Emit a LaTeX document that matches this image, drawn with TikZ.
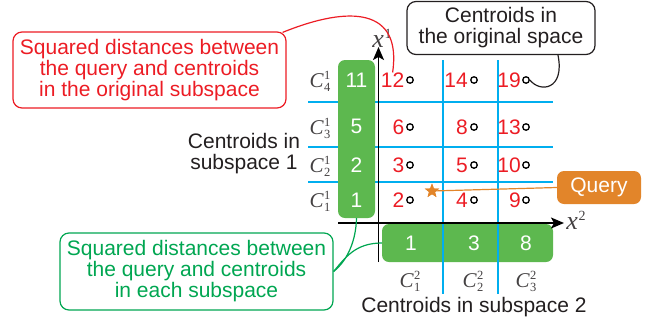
\documentclass[tikz,border=0pt]{standalone}
\usepackage{fontspec}
\setsansfont{Liberation Sans}
\newfontfamily\tms{Liberation Serif}
\usetikzlibrary{shapes.geometric,arrows.meta}
\definecolor{cred}{HTML}{EC1C24}
\definecolor{cgreen}{HTML}{00A651}
\definecolor{gfill}{HTML}{5DB84F}
\definecolor{cblue}{HTML}{00AEEF}
\definecolor{corange}{HTML}{E2852A}
\definecolor{cdark}{HTML}{231F20}
\newcommand\centlab[2]{{\tms\itshape C}\kern0.5pt\rlap{\raisebox{7.5pt}{\tms\fontsize{12.5}{12.5}\selectfont #2}}\raisebox{-4.5pt}{\tms\fontsize{12.5}{12.5}\selectfont #1}}
\newcommand\axlab[1]{{\tms\itshape x}\kern0.5pt\raisebox{9pt}{\tms\fontsize{14}{14}\selectfont #1}}
\begin{document}
\begin{tikzpicture}[x=1pt,y=-1pt,
  font=\sffamily\fontsize{21}{21}\selectfont,
  callout/.style={draw, rounded corners=9pt, line width=1.2pt, align=center, inner sep=2pt},
  gbox/.style={fill=gfill, rounded corners=7pt, inner sep=0pt},
  wnum/.style={text=white, inner sep=0pt},
  rnum/.style={text=cred, anchor=east, inner sep=0pt},
  pt/.style={circle, draw=black, fill=white, line width=1.3pt, minimum size=6.5pt, inner sep=0pt},
  clab/.style={text=cdark!85, font=\fontsize{21}{21}\selectfont, inner sep=0pt, anchor=base},
  bline/.style={cblue, line width=1.6pt},
  axis/.style={line width=1.6pt, -{Stealth[length=13pt,width=11pt,inset=3pt]}},
  conn/.style={line width=1.2pt}
]
\useasboundingbox (0,0) rectangle (649,325);

% blue grid
\draw[bline] (308,102) -- (553,102);
\draw[bline] (308,147) -- (553,147);
\draw[bline] (308,182) -- (553,182);

% green row box (under vertical lines)
\node[gbox, minimum width=171pt, minimum height=38pt] (grow) at (467.5,243) {};
\draw[bline] (443,60) -- (443,294);
\draw[bline] (498,60) -- (498,294);

% green column box (over horizontal lines)
\node[gbox, minimum width=37pt, minimum height=158pt] (gcol) at (356.5,139) {};

% axes
\coordinate (ybot) at (378.5,262);
\coordinate (ytop) at (378.5,47);
\coordinate (xl) at (338,223);
\coordinate (xr) at (564,223);
\draw[axis] (ybot) -- (ytop);
\draw[axis] (xl) -- (xr);
\node[clab, font=\fontsize{26}{26}\selectfont] (xone) at (382,47) {\axlab{1}};
\node[clab, font=\fontsize{26}{26}\selectfont] (xtwo) at (576,229) {\axlab{2}};

% numbers in green boxes
\node[wnum] (g11) at (356.5,80) {11};
\node[wnum] (g5) at (356.5,126) {5};
\node[wnum] (g2) at (356.5,165) {2};
\node[wnum] (g1) at (356.5,200) {1};
\node[wnum] (h1) at (411,243) {1};
\node[wnum] (h3) at (474,243) {3};
\node[wnum] (h8) at (526,243) {8};

% C labels
\node[clab] (c41) at (320,87) {\centlab{4}{1}};
\node[clab] (c31) at (320,134) {\centlab{3}{1}};
\node[clab] (c21) at (320,172) {\centlab{2}{1}};
\node[clab] (c11) at (320,207) {\centlab{1}{1}};
\node[clab] (c12) at (410,287) {\centlab{1}{2}};
\node[clab] (c22) at (473,287) {\centlab{2}{2}};
\node[clab] (c32) at (526,287) {\centlab{3}{2}};

% centroids and distances
\foreach \y/\a/\b/\c [count=\r] in {80/12/14/19, 127/6/8/13, 165/3/5/10, 200/2/4/9}{
  \node[pt] (p\r a) at (410,\y) {};
  \node[pt] (p\r b) at (474,\y) {};
  \node[pt] (p\r c) at (526,\y) {};
  \node[rnum] (n\r a) at (404.5,\y) {\a};
  \node[rnum] (n\r b) at (468,\y) {\b};
  \node[rnum] (n\r c) at (521,\y) {\c};
}

% subspace titles
\node[text=cdark, align=center, inner sep=0pt] (sub1) at (244,154) {Centroids in\\subspace 1};
\node[text=cdark, inner sep=0pt] (sub2) at (474,307) {Centroids in subspace 2};

% callouts
\node[callout, draw=cred, text=cred, minimum width=273pt, minimum height=76pt] (red) at (149.5,70)
  {Squared distances between\\the query and centroids\\in the original subspace};
\node[callout, draw=cgreen, text=cgreen, minimum width=273pt, minimum height=77pt] (grn) at (196.5,271.5)
  {Squared distances between\\the query and centroids\\in each subspace};
\node[callout, draw=cdark, text=cdark, minimum width=188pt, minimum height=53pt] (orig) at (501,28)
  {Centroids in\\the original space};
\node[fill=corange, text=white, rounded corners=7pt, minimum width=84pt, minimum height=33pt, inner sep=0pt] (query) at (599,187.5) {Query};

% connectors
\draw[conn, cred] (red.north east) ++(-4,1) coordinate (rs) .. controls (350,5) and (402,8) .. (n1a.north);
\draw[conn, cdark] ([xshift=57pt]orig.south) .. controls (565,90) and (540,93) .. (p1c.east);
\coordinate (gs) at (grn.east);
\draw[conn, cgreen] (gs) .. controls (348,260) and (356,240) .. (gcol.south);
\draw[conn, cgreen] (gs) .. controls (345,258) and (355,243) .. (grow.west);
\node[star, star points=5, star point ratio=2.4, fill=corange, minimum size=15pt, inner sep=0pt] (star) at (432,191) {};
\draw[conn, corange] (star.center) -- (query.west);
\node[star, star points=5, star point ratio=2.4, fill=corange, minimum size=15pt, inner sep=0pt] at (432,191) {};
\end{tikzpicture}
\end{document}
